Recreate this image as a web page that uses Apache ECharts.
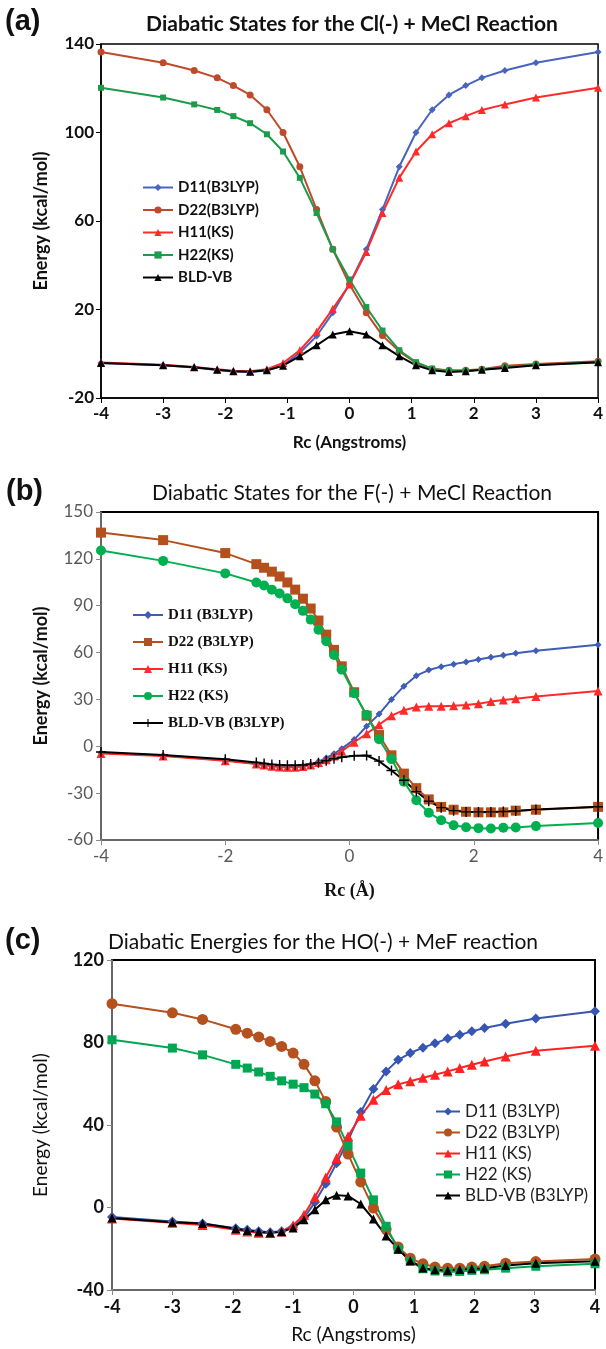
<!DOCTYPE html>
<html>
<head>
<meta charset="utf-8">
<script src="https://cdn.jsdelivr.net/npm/echarts@6/dist/echarts.min.js"></script>
<style>
  body { margin: 0; background: #fff; }
  .panel { width: 606px; position: absolute; left: 0; }
</style>
</head>
<body>
<div id="pa" class="panel" style="top:0;height:460px"></div>
<div id="pb" class="panel" style="top:460px;height:445px"></div>
<div id="pc" class="panel" style="top:905px;height:444px"></div>
<script>
// (a) Cl(-) + MeCl
const rcA = [-4, -3, -2.5, -2.13, -1.87, -1.6, -1.33, -1.07, -0.8, -0.53, -0.27, 0, 0.27, 0.53, 0.8, 1.07, 1.33, 1.6, 1.87, 2.13, 2.5, 3, 4];
const d11A = [-4.2, -5.2, -6.2, -7.3, -8.0, -8.3, -7.6, -5.2, 0.4, 8.0, 18.5, 31.5, 47.2, 65.2, 84.5, 100, 110.3, 117, 121.2, 124.7, 128, 131.5, 136.4];
const d22A = [136.4, 131.5, 128, 124.7, 121.2, 117, 110.3, 100, 84.5, 65.2, 47.2, 31.3, 18.5, 8.2, 1.1, -4.2, -6.9, -7.5, -7.5, -7.0, -5.4, -4.6, -3.4];
const h11A = [-4.0, -5.0, -6.0, -7.0, -7.7, -7.9, -7.0, -4.2, 1.6, 10.0, 20.3, 31.3, 46.0, 63.6, 79.5, 91.4, 99.2, 104.2, 107.4, 110.2, 112.7, 115.8, 120.2];
const h22A = [120.2, 115.8, 112.7, 110.2, 107.4, 104.2, 99.2, 91.4, 79.5, 63.6, 47.2, 33.6, 21.1, 10.5, 1.6, -3.8, -6.7, -7.8, -7.8, -7.2, -6.1, -5.0, -4.0];
const bldA = [-4.2, -5.2, -6.1, -7.2, -7.9, -8.1, -7.5, -5.4, -1.1, 3.8, 8.7, 10.2, 8.7, 3.8, -1.1, -5.2, -7.5, -8.2, -7.9, -7.2, -6.4, -5.2, -3.8];
const yTicksA = [-20, 20, 60, 100, 140];

// (b) F(-) + MeCl
const rcB = [-4, -3, -2, -1.5, -1.375, -1.25, -1.125, -1, -0.875, -0.75, -0.625, -0.5, -0.375, -0.25, -0.125, 0.075, 0.275, 0.475, 0.675, 0.875, 1.075, 1.275, 1.475, 1.675, 1.875, 2.075, 2.275, 2.475, 2.675, 3, 4];
const d11B = [-4.2, -5.9, -9.0, -11.2, -11.8, -12.4, -12.9, -13.1, -13.1, -12.6, -11.6, -9.8, -7.5, -4.8, -1.5, 4.3, 12.8, 20.6, 30.0, 38.5, 45.2, 48.8, 51.0, 52.6, 54.0, 55.5, 57.0, 58.3, 59.5, 61.2, 65.0];
const d22B = [136.8, 132, 123.7, 116.6, 114.3, 111.8, 108.7, 104.9, 100.3, 94.5, 88.2, 80.5, 71.5, 61.7, 51.2, 34.6, 19.6, 7.2, -5.8, -17.5, -26.8, -34.0, -38.8, -40.6, -41.9, -42.3, -42.3, -42.3, -41.2, -40.6, -38.8];
const h11B = [-4.6, -6.2, -9.3, -11.4, -12.0, -12.8, -13.3, -13.5, -13.5, -13.0, -12.0, -10.4, -8.7, -6.2, -3.1, 2.6, 8.0, 13.8, 19.6, 23.1, 25.2, 25.6, 25.7, 26.0, 26.5, 27.3, 28.6, 29.6, 30.5, 31.8, 35.4];
const h22B = [125.4, 118.7, 110.7, 104.9, 102.9, 100.3, 97.8, 94.7, 90.9, 86.7, 81.1, 74.6, 67.3, 58.5, 49.1, 34.0, 20.0, 4.5, -8.2, -22.7, -34.5, -42.5, -47.4, -50.5, -51.8, -52.4, -52.6, -52.2, -52.0, -51.1, -49.1];
const bldB = [-3.7, -5.6, -8.3, -10.4, -11.0, -11.6, -12.0, -12.2, -12.2, -12.0, -11.4, -10.6, -9.3, -8.0, -7.0, -6.0, -5.9, -9.5, -15.5, -21.7, -29.0, -35.2, -39.3, -41.2, -42.0, -42.0, -42.0, -41.8, -41.4, -40.4, -38.7];

// (c) HO(-) + MeF
const rcC = [-4, -3, -2.5, -1.95, -1.76, -1.57, -1.38, -1.19, -1.0, -0.82, -0.64, -0.46, -0.28, -0.09, 0.12, 0.33, 0.54, 0.74, 0.94, 1.15, 1.35, 1.56, 1.76, 1.96, 2.17, 2.52, 3.02, 4];
const d11C = [-4.6, -6.8, -7.8, -10.0, -10.8, -11.5, -12.0, -11.5, -9.5, -5.0, 2.5, 11.5, 21.5, 32.5, 46.3, 57.4, 66.0, 71.6, 74.9, 77.5, 79.6, 82.0, 83.7, 85.4, 87.0, 89.1, 91.6, 95.1];
const d22C = [98.8, 94.4, 91.2, 86.4, 84.5, 82.7, 80.5, 78.1, 74.9, 69.4, 61.4, 51.4, 39.0, 25.9, 12.4, -0.3, -10.6, -19.1, -24.6, -27.3, -28.9, -29.4, -29.4, -28.9, -28.5, -27.0, -26.2, -25.0];
const h11C = [-5.3, -7.4, -8.5, -10.8, -11.6, -12.3, -12.4, -11.6, -8.6, -3.5, 5.0, 14.5, 24.0, 34.5, 44.5, 52.2, 57.0, 59.7, 61.2, 62.9, 64.4, 66.0, 67.6, 69.2, 70.8, 73.2, 76.0, 78.4];
const h22C = [81.3, 77.3, 74.0, 69.4, 67.6, 65.7, 63.6, 61.4, 59.8, 58.1, 55.0, 50.3, 41.5, 29.9, 16.7, 3.7, -9.1, -20.2, -26.1, -29.7, -30.8, -31.3, -31.0, -30.5, -30.2, -29.4, -28.5, -27.3];
const bldC = [-5.1, -7.2, -7.8, -10.3, -11.1, -11.8, -12.2, -11.8, -9.9, -5.9, -1.1, 3.7, 6.0, 5.6, 1.7, -5.6, -13.8, -20.2, -25.8, -29.3, -30.2, -30.5, -30.0, -29.7, -29.4, -28.1, -27.0, -26.1];

const SANS = 'Lato, "Liberation Sans", sans-serif';
const SERIF = '"Liberation Serif", "DejaVu Serif", serif';
const PLUS = 'path://M4.3,0 H5.7 V4.3 H10 V5.7 H5.7 V10 H4.3 V5.7 H0 V4.3 H4.3 Z';

function pairs(xs, ys) {
  return xs.map(function (x, i) { return [x, ys[i]]; });
}

function line(name, xs, ys, color, symbol, size) {
  return {
    name: name,
    type: 'line',
    data: pairs(xs, ys),
    symbol: symbol,
    symbolSize: size,
    lineStyle: { color: color, width: 2 },
    itemStyle: { color: color },
    emphasis: { disabled: true }
  };
}

function label(text, x, y, font, align) {
  return {
    type: 'text', x: x, y: y,
    style: { text: text, font: font, fill: '#111', textAlign: align || 'left', textVerticalAlign: 'middle' }
  };
}

// shared axis look, grey = left/bottom axis colour
function axis(opt, grey, tickFont, nameFont, nameGap) {
  return Object.assign({
    type: 'value',
    nameLocation: 'middle',
    nameGap: nameGap,
    nameTextStyle: nameFont,
    axisLine: { onZero: false, lineStyle: { color: grey, width: 1.5 } },
    axisTick: { lineStyle: { color: grey } },
    axisLabel: tickFont,
    splitLine: { show: false }
  }, opt);
}

// panel a
var chartA = echarts.init(document.getElementById('pa'));
var tickA = { fontFamily: SANS, fontWeight: 'bold', fontSize: 17, color: '#111', margin: 7 };
var yAxisA = axis({ min: -20, max: 140, interval: 20, name: 'Energy (kcal/mol)' }, '#000', tickA,
  { fontFamily: SANS, fontWeight: 'bold', fontSize: 18, color: '#111' }, 51);
yAxisA.axisTick.customValues = yTicksA;
yAxisA.axisLabel = Object.assign({ customValues: yTicksA }, tickA);
chartA.setOption({
  animation: false,
  graphic: [
    label('(a)', 5, 22, 'bold 29px "Liberation Sans"'),
    label('Diabatic States for the Cl(-) + MeCl Reaction', 352, 24, 'bold 21px ' + SANS, 'center')
  ],
  grid: { left: 101, right: 3, top: 44, bottom: 62, show: true, borderColor: '#000', borderWidth: 1.5 },
  legend: {
    orient: 'vertical', left: 137, top: 174, itemWidth: 30, itemHeight: 9, itemGap: 5.5,
    textStyle: { fontFamily: SANS, fontWeight: 'bold', fontSize: 15, color: '#111', lineHeight: 17 }
  },
  xAxis: axis({ min: -4, max: 4, interval: 1, name: 'Rc (Angstroms)' }, '#000', tickA,
    { fontFamily: SANS, fontWeight: 'bold', fontSize: 17, color: '#111' }, 36),
  yAxis: yAxisA,
  series: [
    line('D11(B3LYP)', rcA, d11A, '#4864BE', 'diamond', 7),
    line('D22(B3LYP)', rcA, d22A, '#BE4A2C', 'circle', 7),
    line('H11(KS)', rcA, h11A, '#FF2A2A', 'triangle', 8),
    line('H22(KS)', rcA, h22A, '#1E9A4A', 'rect', 6),
    line('BLD-VB', rcA, bldA, '#000000', 'triangle', 8)
  ]
});

// panel b
var chartB = echarts.init(document.getElementById('pb'));
var tickB = { fontFamily: SANS, fontSize: 17, color: '#595959', margin: 8 };
chartB.setOption({
  animation: false,
  graphic: [
    label('(b)', 6, 32, 'bold 29px "Liberation Sans"'),
    label('Diabatic States for the F(-) + MeCl Reaction', 352, 33, '21px ' + SANS, 'center')
  ],
  grid: { left: 101, right: 4, top: 52, bottom: 57, show: true, borderColor: '#000', borderWidth: 2 },
  legend: {
    orient: 'vertical', left: 127, top: 142, itemWidth: 30, itemHeight: 10, itemGap: 11,
    textStyle: { fontFamily: SERIF, fontWeight: 'bold', fontSize: 15, color: '#111', lineHeight: 16 }
  },
  xAxis: axis({ min: -4, max: 4, interval: 2, name: 'Rc (Å)' }, '#8a8a8a', tickB,
    { fontFamily: SERIF, fontWeight: 'bold', fontSize: 18, color: '#111' }, 42),
  yAxis: axis({ min: -60, max: 150, interval: 30, name: 'Energy (kcal/mol)' }, '#8a8a8a', tickB,
    { fontFamily: SANS, fontWeight: 'bold', fontSize: 18, color: '#111' }, 51),
  series: [
    line('D11 (B3LYP)', rcB, d11B, '#3F5DB6', 'diamond', 7),
    line('D22 (B3LYP)', rcB, d22B, '#B4501E', 'rect', 10),
    line('H11 (KS)', rcB, h11B, '#FF2A2A', 'triangle', 9),
    line('H22 (KS)', rcB, h22B, '#00B050', 'circle', 10),
    line('BLD-VB (B3LYP)', rcB, bldB, '#000000', PLUS, 10)
  ]
});

// panel c
var chartC = echarts.init(document.getElementById('pc'));
var tickC = { fontFamily: SANS, fontWeight: 'bold', fontSize: 18, color: '#111', margin: 8 };
chartC.setOption({
  animation: false,
  graphic: [
    label('(c)', 5, 36, 'bold 29px "Liberation Sans"'),
    label('Diabatic Energies for the HO(-) + MeF reaction', 323, 37, '21px ' + SANS, 'center')
  ],
  grid: { left: 112, right: 11, top: 55, bottom: 55, show: true, borderColor: '#000', borderWidth: 2 },
  legend: {
    orient: 'vertical', left: 430, top: 193, itemWidth: 24, itemHeight: 10, itemGap: 4,
    textStyle: { fontFamily: SANS, fontSize: 17, color: '#222', lineHeight: 17 }
  },
  xAxis: axis({ min: -4, max: 4, interval: 1, name: 'Rc (Angstroms)' }, '#8a8a8a', tickC,
    { fontFamily: SANS, fontSize: 19, color: '#111' }, 35),
  yAxis: axis({ min: -40, max: 120, interval: 40, name: 'Energy (kcal/mol)' }, '#8a8a8a', tickC,
    { fontFamily: SANS, fontSize: 19, color: '#111' }, 62),
  series: [
    line('D11 (B3LYP)', rcC, d11C, '#3656B2', 'diamond', 10),
    line('D22 (B3LYP)', rcC, d22C, '#B5501F', 'circle', 11),
    line('H11 (KS)', rcC, h11C, '#FF2222', 'triangle', 10),
    line('H22 (KS)', rcC, h22C, '#00A651', 'rect', 9),
    line('BLD-VB (B3LYP)', rcC, bldC, '#000000', 'triangle', 9)
  ]
});
</script>
</body>
</html>
